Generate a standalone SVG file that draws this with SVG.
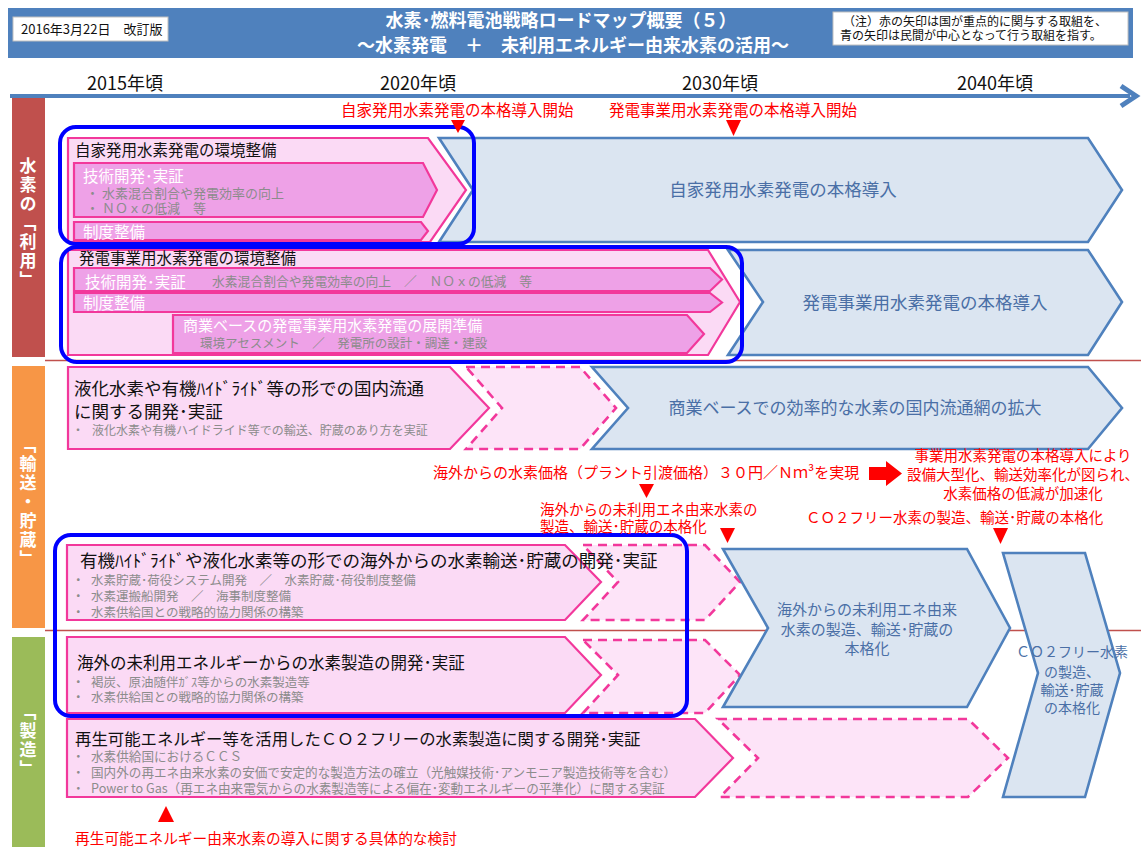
<svg xmlns="http://www.w3.org/2000/svg" width="1141" height="847" viewBox="0 0 1141 847">
<defs>
<style>
text{font-family:"Noto Sans CJK JP","Noto Sans",sans-serif;}
.pk{fill:#fbdaf5;stroke:#f2389b;stroke-width:2.2}
.pkd{fill:#fde4f8;stroke:#f2389b;stroke-width:2.6;stroke-dasharray:9 6}
.pki{fill:#eea1e7;stroke:#f2389b;stroke-width:2.2}
.bl{fill:#dbe5f1;stroke:#4f81bd;stroke-width:2.6}
.hl{fill:none;stroke:#0000ff;stroke-width:4}
.sep{stroke:#c0504d;stroke-width:1.3}
.mk{fill:#ff0000}
.tk{fill:#111111}
.tg{fill:#8c8c8c}
.tw{fill:#ffffff}
.tb{fill:#4a6fa6}
.tr{fill:#ff0000}
.cat{fill:#ffffff;font-weight:bold;font-size:17px;writing-mode:vertical-rl;letter-spacing:2px}
.yr{fill:#111111;font-size:18px}
</style>
</defs>
<rect width="1141" height="847" fill="#ffffff"/>

<g id="header">
<rect x="8" y="8" width="1125" height="50" fill="#4f81bd"/>
<rect x="13" y="17" width="155" height="24" fill="#ffffff" stroke="#bfbfbf" stroke-width="1"/>
<text x="21" y="34" font-size="13" class="tk">2016年3月22日　改訂版</text>
<text x="561" y="27" font-size="18" font-weight="bold" class="tw" text-anchor="middle">水素･燃料電池戦略ロードマップ概要（５）</text>
<text x="573" y="52" font-size="18" font-weight="bold" class="tw" text-anchor="middle">～水素発電　＋　未利用エネルギー由来水素の活用～</text>
<rect x="833" y="12" width="295" height="33" fill="#ffffff" stroke="#bfbfbf" stroke-width="1"/>
<text x="843" y="25.5" font-size="12" class="tk">（注）赤の矢印は国が重点的に関与する取組を、</text>
<text x="840" y="39.5" font-size="12" class="tk">青の矢印は民間が中心となって行う取組を指す。</text>
</g>

<g id="years">
<text x="125" y="90" class="yr" text-anchor="middle">2015年頃</text>
<text x="418" y="90" class="yr" text-anchor="middle">2020年頃</text>
<text x="720" y="90" class="yr" text-anchor="middle">2030年頃</text>
<text x="995" y="90" class="yr" text-anchor="middle">2040年頃</text>
</g>

<g id="categories">
<rect x="12" y="97" width="33" height="260" fill="#c0504d"/>
<rect x="12" y="366" width="33" height="262" fill="#f79646"/>
<rect x="12" y="637" width="33" height="210" fill="#9bbb59"/>
<text x="28" y="224" class="cat" text-anchor="middle">水素の「利用」</text>
<text x="28" y="503" class="cat" text-anchor="middle">「輸送・貯蔵」</text>
<text x="28" y="741" class="cat" text-anchor="middle">「製造」</text>
</g>

<g id="separators">
<line x1="45" y1="360.5" x2="1141" y2="360.5" class="sep"/>
<line x1="45" y1="630.5" x2="1141" y2="630.5" class="sep"/>
</g>

<g id="row-jika">
<polygon class="pk" points="68,138 428,138 466,190 430,242 68,242"/>
<polygon class="pki" points="74,163 423,163 437,190 423,217 74,217"/>
<polygon class="pki" points="74,222 421,222 428,231 421,240 74,240"/>
<text x="75" y="156" font-size="15.5" class="tk">自家発用水素発電の環境整備</text>
<text x="83" y="182" font-size="15.5" class="tw">技術開発･実証</text>
<text font-size="13" class="tg"><tspan x="86" y="198">・</tspan><tspan x="102" y="198">水素混合割合や発電効率の向上</tspan></text>
<text font-size="13" class="tg"><tspan x="86" y="213">・</tspan><tspan x="102" y="213">ＮＯｘの低減　等</tspan></text>
<text x="83" y="238" font-size="15.5" class="tw">制度整備</text>
</g>
<g id="jika-intro">
<polygon class="bl" points="439,138 1088,138 1122,190 1088,242 439,242 473,190"/>
<text x="783" y="196" font-size="17.5" class="tb" text-anchor="middle">自家発用水素発電の本格導入</text>
</g>

<g id="row-jigyo">
<polygon class="pk" points="68,250 708,250 740,302 708,355 68,355"/>
<polygon class="pki" points="74,268 710,268 722,279.5 710,291 74,291"/>
<polygon class="pki" points="74,293 710,293 722,302.5 710,312 74,312"/>
<polygon class="pki" points="173,315 687,315 704,334 687,353 173,353"/>
<text x="79" y="264" font-size="15.5" class="tk">発電事業用水素発電の環境整備</text>
<text x="85" y="288" font-size="15.5" class="tw">技術開発･実証</text>
<text x="212" y="286" font-size="12.8" class="tg">水素混合割合や発電効率の向上　／　ＮＯｘの低減　等</text>
<text x="83" y="309" font-size="15.5" class="tw">制度整備</text>
<text x="183" y="331" font-size="15" class="tw">商業ベースの発電事業用水素発電の展開準備</text>
<text x="200" y="348" font-size="12.5" class="tg">環境アセスメント　／　発電所の設計・調達・建設</text>
</g>
<g id="jigyo-intro">
<polygon class="bl" points="728,250 1088,250 1122,302 1088,355 728,355 763,302"/>
<text x="925" y="309" font-size="17.5" class="tb" text-anchor="middle">発電事業用水素発電の本格導入</text>
</g>

<g id="row-domestic">
<polygon class="pk" points="68,367 450,367 489,408 450,449 68,449"/>
<polygon class="pkd" points="466,367 580,367 616,408 580,449 466,449 502,408"/>
<text x="74" y="395" font-size="17.5" class="tk">液化水素や有機ﾊｲﾄﾞﾗｲﾄﾞ等の形での国内流通</text>
<text x="74" y="418" font-size="17.5" class="tk">に関する開発･実証</text>
<text font-size="12" class="tg"><tspan x="72" y="435">・</tspan><tspan x="92" y="435">液化水素や有機ハイドライド等での輸送、貯蔵のあり方を実証</tspan></text>
</g>
<g id="domestic-network">
<polygon class="bl" points="592,367 1088,367 1122,408 1088,449 592,449 628,408"/>
<text x="855" y="414" font-size="17" class="tb" text-anchor="middle">商業ベースでの効率的な水素の国内流通網の拡大</text>
</g>

<g id="row-overseas-transport">
<polygon class="pk" points="67,545 565,545 601,582 565,620 67,620"/>
<polygon class="pkd" points="583,545 705,545 740,582 705,620 583,620 618,582"/>
<text x="80" y="567" font-size="17.5" class="tk">有機ﾊｲﾄﾞﾗｲﾄﾞや液化水素等の形での海外からの水素輸送･貯蔵の開発･実証</text>
<text font-size="12.5" class="tg"><tspan x="72" y="585">・</tspan><tspan x="91" y="585">水素貯蔵･荷役システム開発　／　水素貯蔵･荷役制度整備</tspan></text>
<text font-size="12.5" class="tg"><tspan x="72" y="601">・</tspan><tspan x="91" y="601">水素運搬船開発　／　海事制度整備</tspan></text>
<text font-size="12.5" class="tg"><tspan x="72" y="617">・</tspan><tspan x="91" y="617">水素供給国との戦略的協力関係の構築</tspan></text>
</g>

<g id="row-overseas-production">
<polygon class="pk" points="67,637 565,637 601,675 565,713 67,713"/>
<polygon class="pkd" points="583,640 705,640 740,675 705,713 583,713 618,675"/>
<text x="77" y="669" font-size="16.5" class="tk">海外の未利用エネルギーからの水素製造の開発･実証</text>
<text font-size="12.5" class="tg"><tspan x="72" y="687">・</tspan><tspan x="91" y="687">褐炭、原油随伴ｶﾞｽ等からの水素製造等</tspan></text>
<text font-size="12.5" class="tg"><tspan x="72" y="702">・</tspan><tspan x="91" y="702">水素供給国との戦略的協力関係の構築</tspan></text>
</g>
<g id="overseas-full">
<polygon class="bl" points="723,549 967,549 1010,628 967,707 723,707 768,628"/>
<text font-size="15" class="tb" text-anchor="middle"><tspan x="867" y="615">海外からの未利用エネ由来</tspan><tspan x="867" y="635">水素の製造、輸送･貯蔵の</tspan><tspan x="867" y="654">本格化</tspan></text>
</g>

<g id="row-renewable">
<polygon class="pk" points="67,719 695,719 733,758 695,797 67,797"/>
<polygon class="pkd" points="718,719 968,719 1008,758 968,797 720,797 758,758"/>
<text x="75" y="745" font-size="16.4" class="tk">再生可能エネルギー等を活用したＣＯ２フリーの水素製造に関する開発･実証</text>
<text font-size="12.6" class="tg"><tspan x="72" y="761">・</tspan><tspan x="91" y="761">水素供給国におけるＣＣＳ</tspan></text>
<text font-size="12.6" class="tg"><tspan x="72" y="777">・</tspan><tspan x="91" y="777">国内外の再エネ由来水素の安価で安定的な製造方法の確立（光触媒技術･アンモニア製造技術等を含む）</tspan></text>
<text font-size="12.6" class="tg"><tspan x="72" y="793">・</tspan><tspan x="91" y="793">Power to Gas（再エネ由来電気からの水素製造等による偏在･変動エネルギーの平準化）に関する実証</tspan></text>
</g>
<g id="co2free-full">
<polygon class="bl" points="1003,553 1085,553 1120,673 1085,797 1003,797 1038,673"/>
<text font-size="14" class="tb" text-anchor="middle"><tspan x="1072" y="657">ＣＯ２フリー水素</tspan><tspan x="1072" y="677">の製造、</tspan><tspan x="1072" y="695">輸送･貯蔵</tspan><tspan x="1072" y="713">の本格化</tspan></text>
</g>

<g id="highlights">
<rect class="hl" x="60" y="127" width="414" height="117" rx="16"/>
<rect class="hl" x="61" y="247" width="681" height="115" rx="16"/>
<rect class="hl" x="55" y="535" width="632" height="181" rx="16"/>
</g>

<g id="milestones">
<text x="341" y="116" font-size="15.5" class="tr">自家発用水素発電の本格導入開始</text>
<text x="609" y="116" font-size="15.5" class="tr">発電事業用水素発電の本格導入開始</text>
<text x="433" y="478" font-size="15" class="tr">海外からの水素価格（プラント引渡価格）３０円／Ｎｍ³を実現</text>
<text font-size="14.5" class="tr" text-anchor="middle"><tspan x="1023" y="461">事業用水素発電の本格導入により</tspan><tspan x="1023" y="480">設備大型化、輸送効率化が図られ、</tspan><tspan x="1023" y="499">水素価格の低減が加速化</tspan></text>
<text font-size="14.5" class="tr"><tspan x="540" y="515">海外からの未利用エネ由来水素の</tspan><tspan x="540" y="532">製造、輸送･貯蔵の本格化</tspan></text>
<text x="806" y="523" font-size="14.5" class="tr">ＣＯ２フリー水素の製造、輸送･貯蔵の本格化</text>
<text x="75" y="844" font-size="14.7" class="tr">再生可能エネルギー由来水素の導入に関する具体的な検討</text>
</g>

<g id="connectors">
<line x1="10" y1="96" x2="1130" y2="96" stroke="#4f81bd" stroke-width="4"/>
<polyline points="1121,86 1136,96 1121,106" fill="none" stroke="#4f81bd" stroke-width="5"/>
<path class="mk" d="M451,120 L465,120 L458,133 Z"/>
<path class="mk" d="M726,120 L741,120 L733.5,136 Z"/>
<path class="mk" d="M639,484 L654,484 L646.5,498 Z"/>
<path class="mk" d="M720,528 L735,528 L727.5,543 Z"/>
<path class="mk" d="M993,528 L1008,528 L1000.5,544 Z"/>
<path class="mk" d="M158,822 L174,822 L166,806 Z"/>
<path class="mk" d="M869,467 H886 V461 L902,473.5 L886,486 V480 H869 Z"/>
</g>
</svg>
